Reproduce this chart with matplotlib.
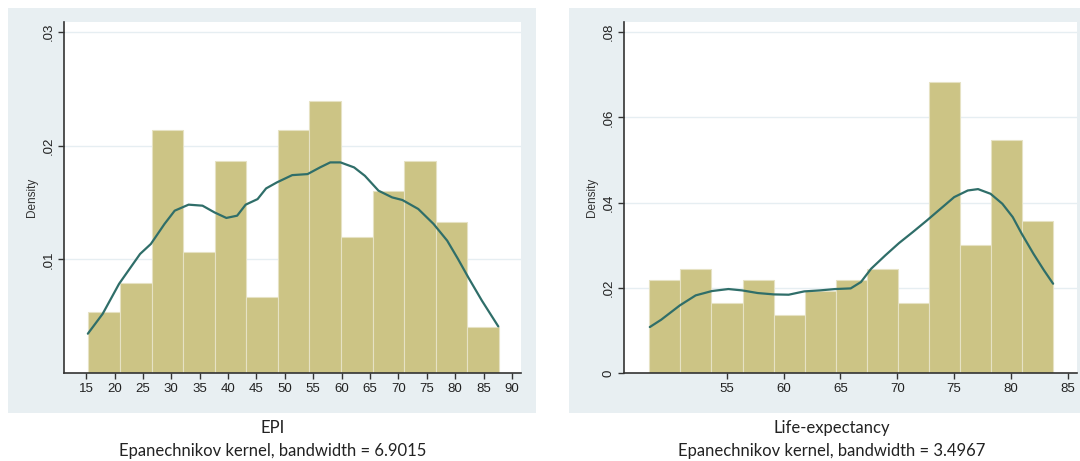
import numpy as np
import matplotlib
matplotlib.use("Agg")
import matplotlib.pyplot as plt
from matplotlib.patches import Rectangle

# ---- EPI histogram (density) and Epanechnikov kernel density ----
epi_bin_range = (15.4, 87.7)
epi_density = [0.00536, 0.00794, 0.02138, 0.01069, 0.01865, 0.00665, 0.02138,
               0.02398, 0.01198, 0.01602, 0.01865, 0.01332, 0.00404]
epi_kde_x = [15.3, 17.9, 20.8, 24.5, 26.4, 28.8, 30.6, 33.05, 35.5, 37.6, 39.7,
             41.6, 43.1, 45.2, 46.7, 48.6, 51.3, 54.0, 56.2, 58.0, 59.8, 62.2,
             64.1, 66.5, 68.9, 70.7, 73.5, 76.2, 78.6, 80.5, 82.3, 84.7, 87.6]
epi_kde_y = [0.00346, 0.0052, 0.00785, 0.01048, 0.01136, 0.01312, 0.01429,
             0.01482, 0.01473, 0.01414, 0.01365, 0.01385, 0.01482, 0.01531,
             0.01625, 0.01678, 0.01742, 0.01751, 0.0181, 0.01854, 0.01854,
             0.0181, 0.01736, 0.01605, 0.01546, 0.01523, 0.01444, 0.01312,
             0.01165, 0.01004, 0.00843, 0.00638, 0.0041]
epi_xticks = list(range(15, 95, 5))
epi_yticks = [0.01, 0.02, 0.03]
epi_yticklabels = [".01", ".02", ".03"]
epi_title = "EPI"
epi_note = "Epanechnikov kernel, bandwidth = 6.9015"

# ---- Life-expectancy histogram (density) and kernel density ----
life_bin_range = (48.2, 83.7)
life_density = [0.0219, 0.0244, 0.0164, 0.0219, 0.0136, 0.0192, 0.0219,
                0.0244, 0.0164, 0.0683, 0.0300, 0.0546, 0.0356]
life_kde_x = [48.24, 49.24, 50.88, 52.27, 53.7, 55.15, 56.36, 57.73, 59.15,
              60.45, 61.82, 63.18, 64.55, 65.9, 66.8, 67.7, 68.94, 70.15,
              71.36, 72.6, 73.8, 75.0, 76.2, 77.1, 78.2, 79.24, 80.15, 80.94,
              81.97, 82.9, 83.7]
life_kde_y = [0.01079, 0.01251, 0.01587, 0.01822, 0.01924, 0.01971, 0.01939,
              0.01877, 0.01845, 0.01838, 0.01916, 0.01939, 0.01971, 0.01986,
              0.02135, 0.02448, 0.0276, 0.0305, 0.03308, 0.03581, 0.03855,
              0.04129, 0.04285, 0.04317, 0.04207, 0.03972, 0.0366, 0.03269,
              0.028, 0.02409, 0.02096]
life_xticks = list(range(55, 90, 5))
life_yticks = [0, 0.02, 0.04, 0.06, 0.08]
life_yticklabels = ["0", ".02", ".04", ".06", ".08"]
life_title = "Life-expectancy"
life_note = "Epanechnikov kernel, bandwidth = 3.4967"

W, H = 1080, 461
BAR = "#ccc485"
BAR_EDGE = "#e6e2c4"
LINE = "#2f6e69"
PANEL_BG = "#e8eff2"
GRID = "#e6eef2"
TICK_FONT = ["Liberation Sans", "DejaVu Sans"]
NOTE_FONT = ["Lato", "DejaVu Sans"]

fig = plt.figure(figsize=(W / 100, H / 100), dpi=100)
fig.patch.set_facecolor("white")


def px_box(x0, y0, x1, y1):
    """Figure-fraction rectangle from pixel corners (top-left origin)."""
    return [x0 / W, 1 - y1 / H, (x1 - x0) / W, (y1 - y0) / H]


# graph-region backgrounds, kept beneath the axes
for x0, x1 in [(8, 536), (569, 1085)]:
    fig.patches.append(Rectangle((x0 / W, 1 - 413 / H), (x1 - x0) / W,
                                 (413 - 8) / H, transform=fig.transFigure,
                                 facecolor=PANEL_BG, edgecolor="none",
                                 zorder=-5))


def panel(box, bin_range, density, kde_x, kde_y, xlim, ylim, xticks,
          yticks, yticklabels, title, note, text_cx):
    ax = fig.add_axes(box)
    ax.set_zorder(1)
    ax.set_facecolor("white")
    edges = np.linspace(bin_range[0], bin_range[1], len(density) + 1)
    ax.bar(edges[:-1], density, width=np.diff(edges), align="edge",
           color=BAR, edgecolor=BAR_EDGE, linewidth=0.8, zorder=2)
    ax.plot(kde_x, kde_y, color=LINE, linewidth=1.6, zorder=3,
            solid_capstyle="round", solid_joinstyle="round")
    ax.set_xlim(*xlim)
    ax.set_ylim(*ylim)
    ax.set_xticks(xticks)
    ax.set_yticks(yticks)
    ax.set_yticklabels(yticklabels, rotation=90, va="center")
    for t in yticks:
        if t > 0:
            ax.axhline(t, color=GRID, linewidth=1.0, zorder=1)
    for s in ["top", "right"]:
        ax.spines[s].set_visible(False)
    for s in ["left", "bottom"]:
        ax.spines[s].set_color("#333333")
        ax.spines[s].set_linewidth(1.2)
    ax.tick_params(axis="both", direction="out", length=4.5, width=1.0,
                   color="#333333", labelsize=9.5, labelcolor="#222222",
                   pad=2.5)
    for lab in ax.get_xticklabels() + ax.get_yticklabels():
        lab.set_fontfamily(TICK_FONT)
    ax.set_ylabel("Density", fontsize=8.5, color="#333333",
                  family=TICK_FONT, labelpad=3)
    fig.text(text_cx / W, 1 - 428 / H, title, ha="center", va="center",
             fontsize=12, family=NOTE_FONT, color="#222222")
    fig.text(text_cx / W, 1 - 451 / H, note, ha="center", va="center",
             fontsize=12, family=NOTE_FONT, color="#222222")
    return ax


panel(px_box(64, 22, 521, 373), epi_bin_range, epi_density, epi_kde_x,
      epi_kde_y, (11.1, 91.6), (0, 0.0309), epi_xticks, epi_yticks,
      epi_yticklabels, epi_title, epi_note, 273)
panel(px_box(624, 22, 1077, 373), life_bin_range, life_density, life_kde_x,
      life_kde_y, (45.97, 85.8), (0, 0.0824), life_xticks, life_yticks,
      life_yticklabels, life_title, life_note, 832)

fig.savefig("out.png", dpi=100, facecolor="white")
